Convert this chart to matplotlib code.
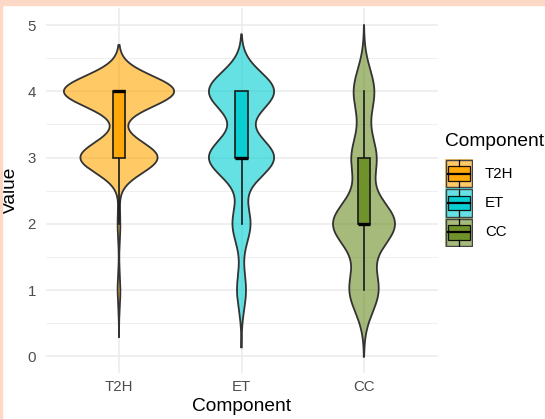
import numpy as np
import matplotlib
matplotlib.use('Agg')
import matplotlib.pyplot as plt
from matplotlib.patches import Rectangle

# answer counts per score (scores 1..4) for each component
components = ['T2H', 'ET', 'CC']
scores = [1, 2, 3, 4]
counts_t2h = [1, 1, 28, 40]
counts_et = [4, 8, 29, 29]
counts_cc = [7, 15, 6, 5]
all_counts = [counts_t2h, counts_et, counts_cc]

fill_colors = ['#FFA500', '#00CED1', '#6B8E23']
y_ticks = [0, 1, 2, 3, 4, 5]

plt.rcParams['font.family'] = ['Liberation Sans', 'DejaVu Sans']

W, H = 545, 419


def px_box(x0, y0, x1, y1):
    # pixel box (top-left origin) -> figure fraction rect
    return [x0 / W, 1 - y1 / H, (x1 - x0) / W, (y1 - y0) / H]


# bandwidth like R's bw.nrd0
def nrd0(x):
    sd = np.std(x, ddof=1)
    q75, q25 = np.percentile(x, [75, 25])
    lo = min(sd, (q75 - q25) / 1.34)
    return 0.9 * lo * len(x) ** -0.2


def kde(x, bw):
    grid = np.linspace(x.min() - 3 * bw, x.max() + 3 * bw, 512)
    z = (grid[:, None] - x[None, :]) / bw
    d = np.exp(-0.5 * z ** 2).sum(axis=1) / (len(x) * bw * np.sqrt(2 * np.pi))
    return grid, d


samples = [np.repeat(scores, c).astype(float) for c in all_counts]
dens = [kde(s, nrd0(s)) for s in samples]
dmax = max(d.max() for g, d in dens)

fig = plt.figure(figsize=(W / 100, H / 100), dpi=100)
fig.patch.set_facecolor('white')

# peach frame on top and left edge
fig.patches.append(Rectangle((0, 1 - 5 / H), 1, 5 / H, transform=fig.transFigure,
                             color='#FCD8C7', zorder=10))
fig.patches.append(Rectangle((0, 0), 2 / W, 1, transform=fig.transFigure,
                             color='#FCD8C7', zorder=10))

ax = fig.add_axes(px_box(45.5, 8.5, 437.5, 373))
ax.set_xlim(0.4, 3.6)
ax.set_ylim(-0.25, 5.25)
for s in ax.spines.values():
    s.set_visible(False)

# grid
for y in y_ticks:
    ax.axhline(y, color='#EBEBEB', lw=1.1, zorder=0)
for y in np.arange(0.5, 5, 1.0):
    ax.axhline(y, color='#EBEBEB', lw=0.55, zorder=0)
for i in range(len(components)):
    ax.axvline(i + 1, color='#EBEBEB', lw=1.1, zorder=0)

for i, (s, (grid, d)) in enumerate(zip(samples, dens)):
    xc = i + 1
    half = d / dmax * 0.45
    ax.fill_betweenx(grid, xc - half, xc + half, facecolor=fill_colors[i], alpha=0.6,
                     edgecolor='none', zorder=2)
    ax.plot(np.r_[xc - half, (xc + half)[::-1], xc - half[0]],
            np.r_[grid, grid[::-1], grid[0]], color='#333333', lw=1.3, zorder=3)

    q1, med, q3 = np.percentile(s, [25, 50, 75])
    iqr = q3 - q1
    lo_w = s[s >= q1 - 1.5 * iqr].min()
    hi_w = s[s <= q3 + 1.5 * iqr].max()
    ax.plot([xc, xc], [lo_w, q1], color='#1A1A1A', lw=1.2, zorder=4)
    ax.plot([xc, xc], [q3, hi_w], color='#1A1A1A', lw=1.2, zorder=4)
    ax.add_patch(Rectangle((xc - 0.05, q1), 0.1, q3 - q1, facecolor=fill_colors[i],
                           alpha=0.9, edgecolor='none', zorder=4))
    ax.add_patch(Rectangle((xc - 0.05, q1), 0.1, q3 - q1, facecolor='none',
                           edgecolor='#1A1A1A', lw=1.2, zorder=5))
    ax.plot([xc - 0.05, xc + 0.05], [med, med], color='black', lw=2.4,
            solid_capstyle='butt', zorder=6)

ax.set_xticks(range(1, len(components) + 1))
ax.set_xticklabels(components)
ax.set_yticks(y_ticks)
ax.tick_params(length=0, labelsize=10.8, labelcolor='#4D4D4D')
ax.tick_params(axis='y', pad=7)
ax.tick_params(axis='x', pad=5)
ax.set_xlabel('Component', fontsize=13.8, labelpad=3)
ax.set_ylabel('Value', fontsize=13.8, labelpad=6)

# legend drawn by hand to get violin + box keys
lax = fig.add_axes(px_box(445, 159, 473, 247))
lax.set_xlim(0, 1)
lax.set_ylim(0, 3)
lax.axis('off')
for i, name in enumerate(components):
    row = 2 - i
    lax.add_patch(Rectangle((0, row), 1, 1, facecolor=fill_colors[i], alpha=0.6,
                            edgecolor='none'))
    lax.add_patch(Rectangle((0.03, row + 0.03), 0.94, 0.94, facecolor='none',
                            edgecolor='#444444', lw=1.0))
    lax.plot([0.5, 0.5], [row + 0.05, row + 0.25], color='black', lw=0.9)
    lax.plot([0.5, 0.5], [row + 0.75, row + 0.95], color='black', lw=0.9)
    lax.add_patch(Rectangle((0.12, row + 0.25), 0.76, 0.5, facecolor=fill_colors[i],
                            alpha=0.9, edgecolor='black', lw=0.9))
    lax.plot([0.12, 0.88], [row + 0.5, row + 0.5], color='black', lw=1.6)
    fig.text(485 / W, 1 - (173.5 + 29.3 * i) / H, name, fontsize=10.8,
             va='center', ha='left')

fig.text(445 / W, 1 - 142 / H, 'Component', fontsize=13.8, va='center', ha='left')

fig.savefig('out.png', dpi=100)
